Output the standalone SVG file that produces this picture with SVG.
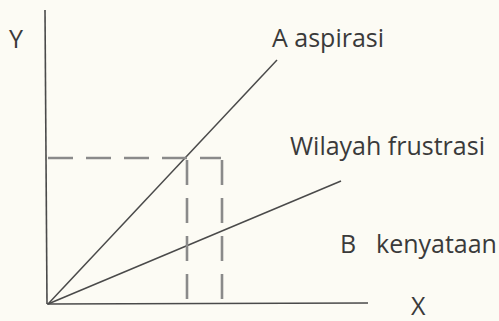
<svg xmlns="http://www.w3.org/2000/svg" width="499" height="321" viewBox="0 0 499 321">
<style>
.t{font-family:"Open Sans","Noto Sans",sans-serif;font-size:25px;fill:#3a3a3a}
.ax{stroke:#4a4a4a;stroke-width:1.6;fill:none}
.ln{stroke:#4a4a4a;stroke-width:1.5;fill:none}
.d{stroke:#8a8a8a;stroke-width:2.6;fill:none;stroke-dasharray:25 13}
</style>
<rect width="499" height="321" fill="#fcfbf4"/>
<g id="connectors">
<line class="ax" x1="45" y1="10" x2="47" y2="304"/>
<line class="ax" x1="47" y1="304" x2="368" y2="303"/>
<line class="ln" x1="48" y1="304" x2="277" y2="60"/>
<line class="ln" x1="48" y1="304" x2="341" y2="181"/>
<path class="d" d="M48 158 H221"/>
<path class="d" d="M187 160 V303"/>
<path class="d" d="M222 160 V303"/>
</g>
<g id="label-y"><text class="t" x="9" y="48">Y</text></g>
<g id="label-x"><text class="t" x="411" y="315">X</text></g>
<g id="label-a"><text class="t" x="272" y="47">A aspirasi</text></g>
<g id="label-w"><text class="t" x="290" y="155">Wilayah frustrasi</text></g>
<g id="label-b"><text class="t" x="340" y="253">B<tspan x="376">kenyataan</tspan></text></g>
</svg>
